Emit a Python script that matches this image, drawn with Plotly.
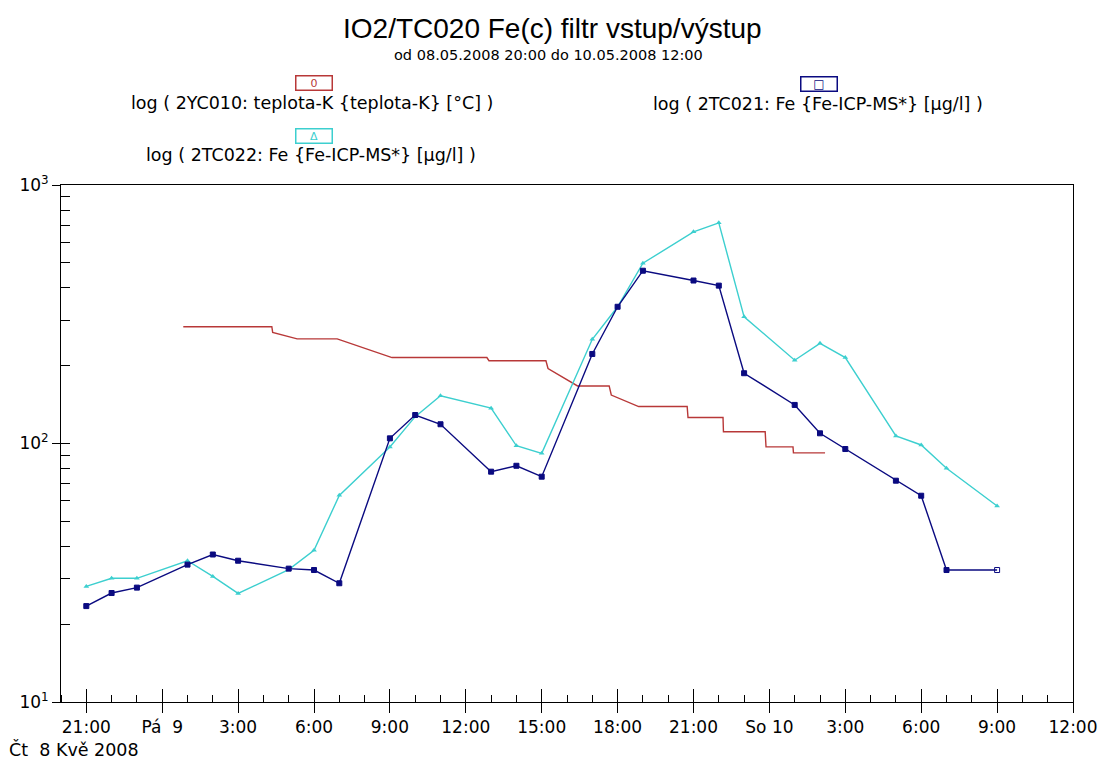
import plotly.graph_objects as go

# ---------------- data ----------------
times_fe = ["2008-05-08 21:00", "2008-05-08 22:00", "2008-05-08 23:00", "2008-05-09 01:00",
            "2008-05-09 02:00", "2008-05-09 03:00", "2008-05-09 05:00", "2008-05-09 06:00",
            "2008-05-09 07:00", "2008-05-09 09:00", "2008-05-09 10:00", "2008-05-09 11:00",
            "2008-05-09 13:00", "2008-05-09 14:00", "2008-05-09 15:00", "2008-05-09 17:00",
            "2008-05-09 18:00", "2008-05-09 19:00", "2008-05-09 21:00", "2008-05-09 22:00",
            "2008-05-09 23:00", "2008-05-10 01:00", "2008-05-10 02:00", "2008-05-10 03:00",
            "2008-05-10 05:00", "2008-05-10 06:00", "2008-05-10 07:00", "2008-05-10 09:00"]

fe_2tc021 = [23.5, 26.4, 27.7, 34.0, 37.2, 35.2, 32.8, 32.4,
             28.8, 104.7, 128.9, 118.7, 77.8, 82.0, 74.4, 222,
             338, 466, 427, 408, 187, 141, 109.5, 95.2,
             71.8, 62.8, 32.4, 32.4]

fe_2tc022 = [28.0, 30.1, 30.1, 35.2, 30.6, 26.3, 32.5, 38.6,
             63, 97, 127, 153, 137, 98, 91.6, 253,
             338, 498, 659, 714, 309, 210, 244, 215,
             107, 98.7, 80.2, 57.3]

times_temp = ["2008-05-09 00:50", "2008-05-09 04:20", "2008-05-09 04:22", "2008-05-09 05:20",
              "2008-05-09 06:55", "2008-05-09 09:05", "2008-05-09 12:50", "2008-05-09 12:55",
              "2008-05-09 15:10", "2008-05-09 15:15", "2008-05-09 16:25", "2008-05-09 17:40",
              "2008-05-09 17:45", "2008-05-09 18:50", "2008-05-09 20:45", "2008-05-09 20:47",
              "2008-05-09 22:10", "2008-05-09 22:11", "2008-05-09 23:50", "2008-05-09 23:52",
              "2008-05-10 00:56", "2008-05-10 00:57", "2008-05-10 02:12"]
temp_2yc010 = [283, 283, 269, 254,
               254, 215, 215, 209,
               209, 195, 167, 167,
               154, 139, 139, 126,
               126, 111, 111, 97,
               97, 92, 92]

x_tick_vals = ["2008-05-08 21:00", "2008-05-09 00:00", "2008-05-09 03:00", "2008-05-09 06:00",
               "2008-05-09 09:00", "2008-05-09 12:00", "2008-05-09 15:00", "2008-05-09 18:00",
               "2008-05-09 21:00", "2008-05-10 00:00", "2008-05-10 03:00", "2008-05-10 06:00",
               "2008-05-10 09:00", "2008-05-10 12:00"]
x_tick_text = ["21:00", "Pá  9", "3:00", "6:00", "9:00", "12:00", "15:00", "18:00",
               "21:00", "So 10", "3:00", "6:00", "9:00", "12:00"]
y_tick_vals = [10, 100, 1000]
y_tick_text = ["10<sup>1</sup>", "10<sup>2</sup>", "10<sup>3</sup>"]
y_minor_vals = [20, 30, 40, 50, 60, 70, 80, 90, 200, 300, 400, 500, 600, 700, 800, 900]

x_range = ["2008-05-08 20:00", "2008-05-10 12:00"]

title_text = "IO2/TC020 Fe(c) filtr vstup/výstup"
subtitle_text = "od 08.05.2008 20:00 do 10.05.2008 12:00"
name_temp = "log ( 2YC010: teplota-K {teplota-K} [°C] )"
name_021 = "log ( 2TC021: Fe {Fe-ICP-MS*} [µg/l] )"
name_022 = "log ( 2TC022: Fe {Fe-ICP-MS*} [µg/l] )"
date_label = "Čt  8 Kvě 2008"

RED = "#B83838"
NAVY = "#0A0A80"
CYAN = "#3CCFCF"

# ---------------- layout geometry (pixels) ----------------
W, H = 1110, 764
L, R, T, B = 61, 1085, 185, 702


def px(x):
    return (x - L) / (R - L)


def py(y):
    return (B - y) / (B - T)


FONT = "DejaVu Sans"

fig = go.Figure()

fig.add_trace(go.Scatter(
    x=times_temp, y=temp_2yc010, mode="lines",
    line=dict(color=RED, width=1.4), name=name_temp))

fig.add_trace(go.Scatter(
    x=times_fe, y=fe_2tc022, mode="lines+markers",
    line=dict(color=CYAN, width=1.4),
    marker=dict(symbol="triangle-up", size=5, color=CYAN),
    name=name_022))

blue_symbols = ["square"] * (len(fe_2tc021) - 1) + ["square-open"]
fig.add_trace(go.Scatter(
    x=times_fe, y=fe_2tc021, mode="lines+markers",
    line=dict(color=NAVY, width=1.4),
    marker=dict(symbol=blue_symbols, size=5, color=NAVY, line=dict(color=NAVY, width=1)),
    name=name_021))

# empty helper trace for overlay axes (inner halves of major ticks)
fig.add_trace(go.Scatter(x=[], y=[], xaxis="x2", yaxis="y2", showlegend=False, hoverinfo="skip"))

axis_font = dict(family=FONT, size=17, color="black")

fig.update_layout(
    width=W, height=H,
    margin=dict(l=L, r=W - R, t=T, b=H - B, pad=0),
    paper_bgcolor="white", plot_bgcolor="white",
    showlegend=False,
    font=dict(family=FONT, color="black"),
    xaxis=dict(
        type="date", range=x_range, tickmode="array",
        tickvals=x_tick_vals, ticktext=x_tick_text,
        ticks="outside", ticklen=10, tickwidth=1, tickcolor="black",
        showline=True, linecolor="black", linewidth=1, mirror=True,
        showgrid=False, zeroline=False, tickfont=axis_font,
        minor=dict(ticks="inside", ticklen=7, tickwidth=1, tickcolor="black",
                   dtick=3600000, tick0="2008-05-08 20:00", showgrid=False),
    ),
    yaxis=dict(
        type="log", range=[1, 3], tickmode="array",
        tickvals=y_tick_vals, ticktext=y_tick_text,
        ticks="outside", ticklen=8, tickwidth=1, tickcolor="black",
        showline=True, linecolor="black", linewidth=1, mirror=True,
        showgrid=False, zeroline=False, tickfont=axis_font,
        minor=dict(ticks="inside", ticklen=9, tickwidth=1, tickcolor="black",
                   tickvals=y_minor_vals, showgrid=False),
    ),
    xaxis2=dict(
        type="date", range=x_range, overlaying="x", anchor="y", side="bottom",
        tickmode="array", tickvals=x_tick_vals, showticklabels=False,
        ticks="inside", ticklen=13, tickwidth=1, tickcolor="black",
        showline=False, showgrid=False, zeroline=False,
    ),
    yaxis2=dict(
        type="log", range=[1, 3], overlaying="y", anchor="x", side="left",
        tickmode="array", tickvals=y_tick_vals, showticklabels=False,
        ticks="inside", ticklen=9, tickwidth=1, tickcolor="black",
        showline=False, showgrid=False, zeroline=False,
    ),
)

annotations = [
    dict(text=title_text, x=px(558), y=py(28), xanchor="center", yanchor="middle",
         font=dict(family="Liberation Sans", size=28, color="black")),
    dict(text=subtitle_text, x=px(554), y=py(55), xanchor="center", yanchor="middle",
         font=dict(family=FONT, size=14.5, color="black")),
    # legend boxes
    dict(text="0", x=px(317), y=py(83), xanchor="center", yanchor="middle",
         width=35, height=13, bordercolor=RED, borderwidth=1.5, borderpad=0,
         font=dict(family=FONT, size=11, color=RED)),
    dict(text=name_temp, x=px(315), y=py(103), xanchor="center", yanchor="middle",
         font=dict(family=FONT, size=17.5, color="black")),
    dict(text="Δ", x=px(317), y=py(136), xanchor="center", yanchor="middle",
         width=35, height=13, bordercolor=CYAN, borderwidth=1.5, borderpad=0,
         font=dict(family=FONT, size=11, color=CYAN)),
    dict(text=name_022, x=px(314), y=py(155), xanchor="center", yanchor="middle",
         font=dict(family=FONT, size=17.5, color="black")),
    dict(text="□", x=px(828), y=py(84), xanchor="center", yanchor="middle",
         width=35, height=13, bordercolor=NAVY, borderwidth=1.5, borderpad=0,
         font=dict(family=FONT, size=12, color=NAVY)),
    dict(text=name_021, x=px(827), y=py(104), xanchor="center", yanchor="middle",
         font=dict(family=FONT, size=17.5, color="black")),
    dict(text=date_label, x=px(6), y=py(749), xanchor="left", yanchor="middle",
         font=dict(family=FONT, size=17.5, color="black")),
]
for a in annotations:
    a.update(xref="paper", yref="paper", showarrow=False)
fig.update_layout(annotations=annotations)

fig.write_html("out.html")
